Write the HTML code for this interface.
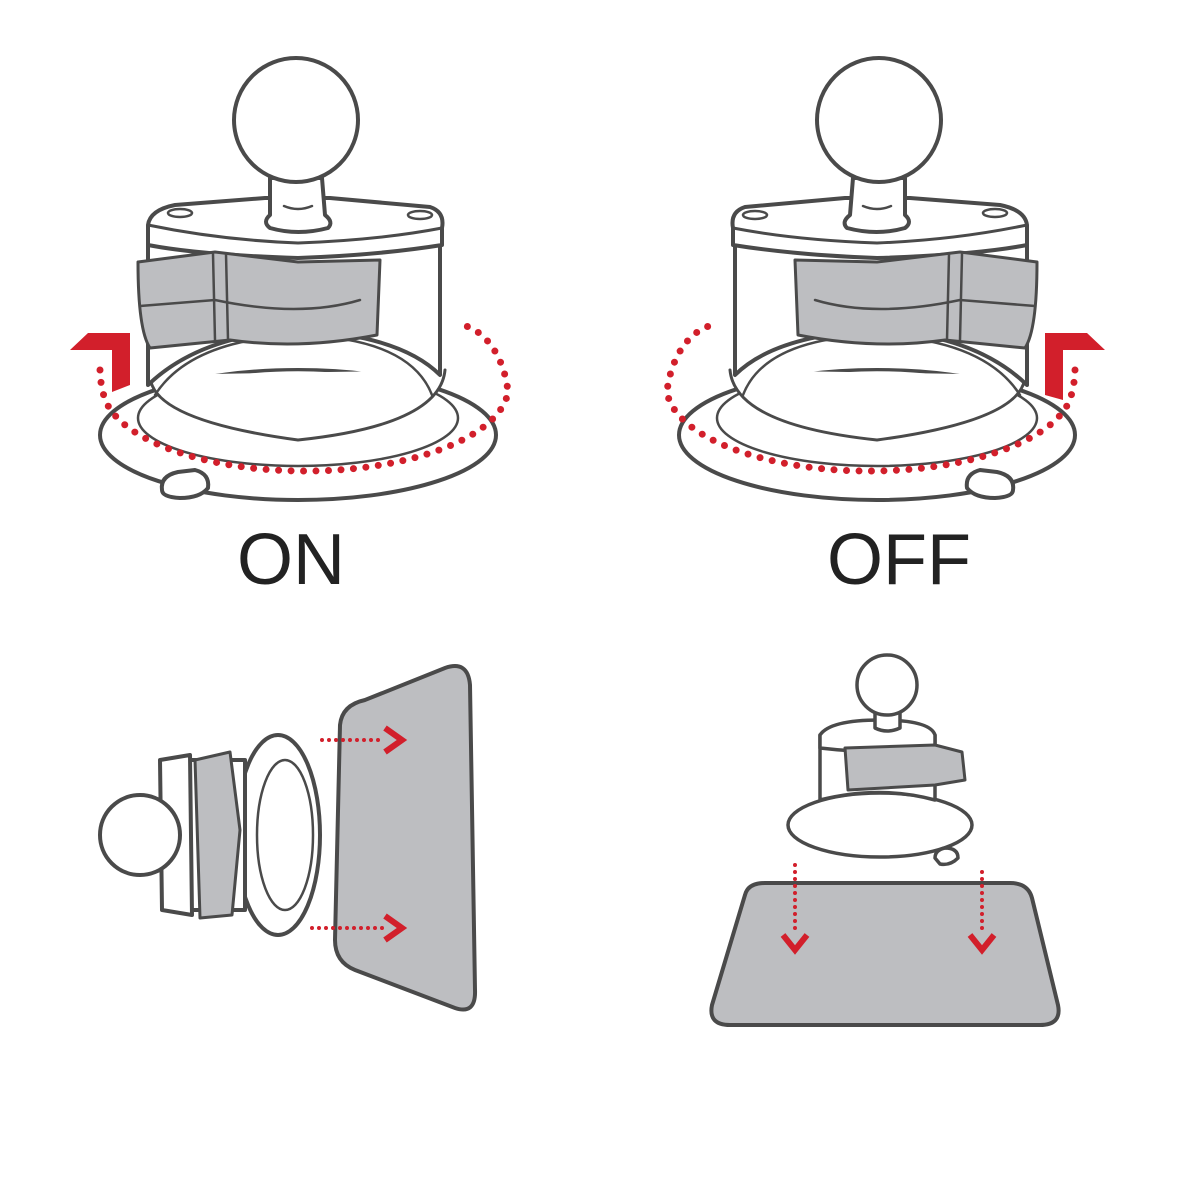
<!DOCTYPE html>
<html><head><meta charset="utf-8"><style>
html,body{margin:0;padding:0;background:#fff;width:1200px;height:1200px;overflow:hidden}
svg{display:block}
</style></head><body>
<svg width="1200" height="1200" viewBox="0 0 1200 1200" xmlns="http://www.w3.org/2000/svg">
<defs>
<g id="mount" fill="#fff" stroke="#4a4a4a" stroke-width="4" stroke-linejoin="round" stroke-linecap="round">
  <ellipse cx="298" cy="435" rx="198" ry="65"/>
  <path d="M162 490 Q160 476 178 472 L195 470 Q210 474 208 488 Q200 498 180 498 Q162 497 162 490Z"/>
  <ellipse cx="298" cy="418" rx="160" ry="48" stroke-width="2.5"/>
  <path d="M150 375 Q150 420 298 440 Q440 425 445 370" stroke-width="3"/>
  <path d="M148 240 L148 385 Q200 335 298 330 Q400 335 440 375 L440 240Z"/>
  <path d="M155 395 Q190 340 298 335 Q410 338 432 395" fill="none" stroke-width="2.5"/>
  <path d="M148 225 Q150 210 175 205 L265 198 L330 198 L430 207 Q445 212 442 228 L442 245 Q380 255 298 258 Q200 255 148 245Z"/>
  <path d="M148 225 Q220 240 298 243 Q380 240 442 228" fill="none" stroke-width="3"/>
  <ellipse cx="180" cy="213" rx="12" ry="4" stroke-width="2.5"/>
  <ellipse cx="420" cy="215" rx="12" ry="4" stroke-width="2.5"/>
  <path d="M138 262 L215 252 L298 262 L380 260 L377 335 Q300 350 230 340 L150 348 Q138 330 138 262Z" fill="#bdbec1" stroke-width="3"/>
  <path d="M140 306 L215 300 Q300 318 360 300" fill="none" stroke-width="2.5"/>
  <path d="M213 254 L215 340 M226 254 L228 340" fill="none" stroke-width="2.5"/>
  <path d="M270 178 L270 215 Q262 222 270 228 Q298 236 328 228 Q334 222 325 215 L322 178Z"/>
  <path d="M284 206 Q298 212 312 206" fill="none" stroke-width="2.5"/>
  <circle cx="296" cy="120" r="62"/>
</g>
<g id="arc">
  <path d="M100 370 Q100 380 103 392 A203 85 0 0 0 508 392 A55 80 0 0 0 466 326" fill="none" stroke="#d21f2b" stroke-width="7" stroke-dasharray="0 12.5" stroke-linecap="round"/>
</g>
</defs>

<use href="#mount"/>
<use href="#mount" transform="translate(1175 0) scale(-1 1)"/>

<use href="#arc"/>
<polygon points="70,350 88,333 130,333 130,385 112,392 112,350" fill="#d21f2b"/>
<use href="#arc" transform="translate(1175 0) scale(-1 1)"/>
<polygon points="1105,350 1087,333 1045,333 1045,395 1063,400 1063,350" fill="#d21f2b"/>

<text x="291" y="584" font-family="Liberation Sans, sans-serif" font-size="72" fill="#222" text-anchor="middle">ON</text>
<text x="899" y="584" font-family="Liberation Sans, sans-serif" font-size="72" fill="#222" text-anchor="middle">OFF</text>

<path d="M340 725 Q342 705 365 700 L445 668 Q468 660 470 685 L475 990 Q476 1015 455 1008 L355 970 Q335 962 335 940Z" fill="#bdbec1" stroke="#4a4a4a" stroke-width="4"/>
<g fill="#fff" stroke="#4a4a4a" stroke-width="4" stroke-linejoin="round">
  <ellipse cx="278" cy="835" rx="42" ry="100"/>
  <ellipse cx="285" cy="835" rx="28" ry="75" stroke-width="2.5"/>
  <path d="M175 760 L245 760 L245 910 L175 910Z"/>
  <path d="M160 760 L190 755 L192 915 L162 910Z"/>
  <path d="M195 760 L230 752 L240 830 L232 915 L200 918Z" fill="#bdbec1" stroke-width="3"/>
  <path d="M140 820 L165 818 L165 852 L140 852Z"/>
  <circle cx="140" cy="835" r="40"/>
</g>
<g stroke="#d21f2b" stroke-width="4" fill="none" stroke-linecap="round">
  <path d="M322 740 L385 740" stroke-dasharray="0 7"/>
  <path d="M312 928 L385 928" stroke-dasharray="0 7"/>
</g>
<polyline points="385,728 402,740 385,752" fill="none" stroke="#d21f2b" stroke-width="6"/>
<polyline points="385,916 402,928 385,940" fill="none" stroke="#d21f2b" stroke-width="6"/>

<path d="M745 895 Q748 883 765 883 L1010 883 Q1028 883 1032 898 L1058 1005 Q1062 1025 1040 1025 L730 1025 Q708 1025 712 1005Z" fill="#bdbec1" stroke="#4a4a4a" stroke-width="4"/>
<g fill="#fff" stroke="#4a4a4a" stroke-width="3.5" stroke-linejoin="round">
  <ellipse cx="880" cy="825" rx="92" ry="32"/>
  <path d="M935 858 Q935 850 945 848 Q958 848 958 858 Q950 866 940 864Z"/>
  <path d="M820 735 L820 800 Q880 785 935 800 L935 735Z"/>
  <path d="M820 735 Q830 720 880 720 Q930 720 935 735 L935 748 Q880 755 820 748Z"/>
  <path d="M845 748 L935 745 L962 752 L965 780 L935 785 L848 790Z" fill="#bdbec1" stroke-width="3"/>
  <path d="M875 705 L875 728 Q887 734 900 728 L900 705Z"/>
  <circle cx="887" cy="685" r="30"/>
</g>
<g stroke="#d21f2b" stroke-width="4" fill="none" stroke-linecap="round">
  <path d="M795 865 L795 935" stroke-dasharray="0 7"/>
  <path d="M982 872 L982 935" stroke-dasharray="0 7"/>
</g>
<polyline points="783,935 795,950 807,935" fill="none" stroke="#d21f2b" stroke-width="6"/>
<polyline points="970,935 982,950 994,935" fill="none" stroke="#d21f2b" stroke-width="6"/>
</svg>
</body></html>
